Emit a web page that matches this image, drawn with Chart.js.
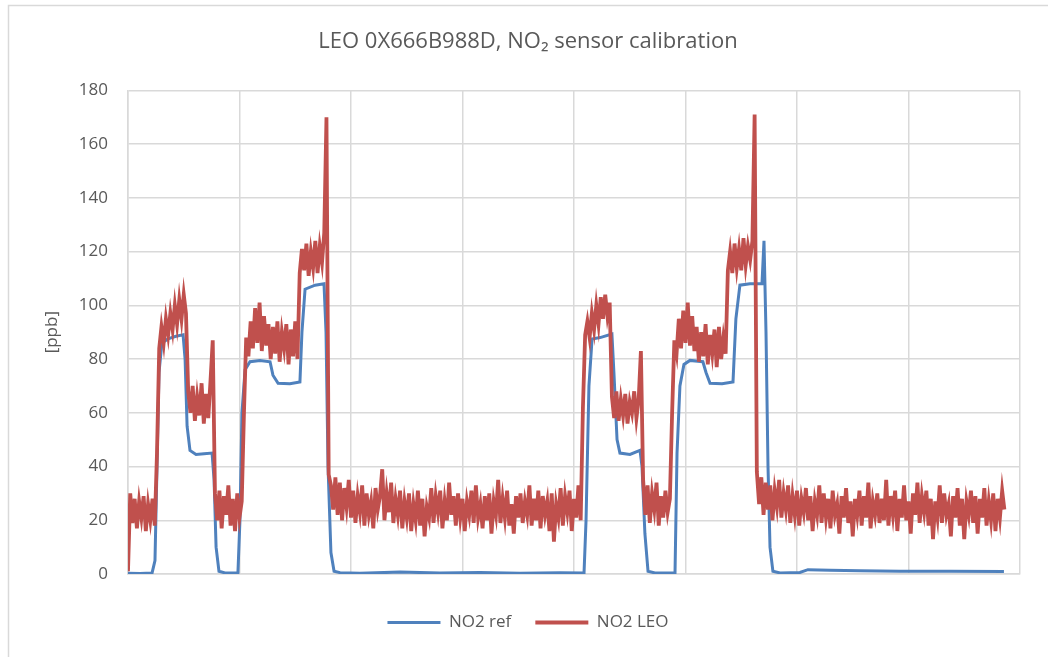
<!DOCTYPE html>
<html>
<head>
<meta charset="utf-8">
<script src="https://cdn.jsdelivr.net/npm/chart.js@4/dist/chart.umd.min.js"></script>
<style>
    html, body { margin: 0; padding: 0; background: #ffffff; }
    #wrap { position: relative; width: 1048px; height: 657px; }
</style>
</head>
<body>
<div id="wrap"><canvas id="chart" width="1048" height="657"></canvas></div>
<script>
const chartTitle = 'LEO 0X666B988D, NO\u2082 sensor calibration';
const yTitle = '[ppb]';
const seriesNames = ['NO2 ref', 'NO2 LEO'];
const yTicks = [0, 20, 40, 60, 80, 100, 120, 140, 160, 180];
const xMax = 400;      // sample number, gridline every 50 samples
const xGridStep = 50;

// NO2 LEO, one reading per sample (sample 0 .. 393)
const leoValues = [
    1, 30, 19, 28, 17, 27, 21, 29, 16, 26,
    20, 28, 18, 45, 84, 92, 86, 95, 89, 97,
    91, 100, 93, 102, 95, 104, 97, 68, 60, 70,
    57, 66, 59, 71, 56, 67, 58, 72, 87, 30,
    20, 31, 17, 29, 22, 33, 18, 28, 16, 30,
    21, 27, 60, 88, 81, 94, 84, 99, 86, 101,
    83, 96, 85, 93, 80, 92, 82, 94, 79, 90,
    84, 93, 78, 91, 81, 94, 80, 112, 121, 113,
    123, 111, 120, 114, 124, 112, 122, 116, 127, 170,
    37, 33, 24, 36, 22, 34, 20, 32, 25, 35,
    21, 31, 19, 29, 23, 33, 18, 30, 22, 27,
    17, 32, 24, 29, 39, 20, 30, 23, 34, 19,
    28, 22, 31, 17, 27, 21, 30, 16, 26, 20,
    31, 18, 28, 14, 25, 21, 32, 19, 29, 23,
    31, 17, 27, 20, 34, 22, 29, 18, 30, 21,
    28, 16, 27, 22, 31, 19, 33, 21, 26, 17,
    29, 20, 30, 15, 27, 22, 35, 19, 28, 21,
    31, 18, 26, 15, 29, 21, 30, 19, 27, 22,
    33, 18, 28, 20, 31, 17, 29, 22, 27, 16,
    30, 12, 26, 21, 32, 18, 29, 23, 31, 16,
    28, 21, 33, 20, 62, 89, 94, 88, 97, 91,
    100, 93, 103, 95, 104, 96, 101, 66, 58, 68,
    57, 65, 59, 67, 56, 64, 60, 68, 58, 65,
    83, 35, 22, 33, 19, 30, 24, 34, 18, 29,
    21, 31, 23, 28, 60, 87, 82, 95, 84, 98,
    86, 101, 85, 96, 83, 92, 79, 90, 81, 93,
    78, 89, 82, 91, 77, 92, 80, 88, 82, 113,
    120, 112, 123, 114, 121, 113, 125, 115, 122, 117,
    124, 171, 38, 26, 36, 22, 34, 24, 33, 20,
    31, 25, 35, 21, 30, 24, 33, 19, 29, 22,
    31, 18, 28, 23, 32, 20, 29, 16, 27, 22,
    33, 19, 30, 21, 28, 17, 31, 22, 26, 15,
    29, 21, 32, 19, 27, 14, 28, 22, 31, 18,
    29, 21, 34, 17, 27, 22, 30, 19, 28, 20,
    35, 18, 29, 22, 31, 16, 28, 21, 33, 20,
    27, 15, 30, 22, 34, 19, 29, 23, 31, 18,
    28, 13, 27, 21, 33, 19, 30, 22, 26, 14,
    29, 21, 32, 18, 28, 13, 27, 22, 31, 19,
    29, 15, 28, 21, 32, 18, 27, 20, 30, 16,
    28, 21, 31, 24
];

// NO2 ref, read at the sample numbers where its shape changes
const refSamples = [
    0, 5.4, 10.8, 12.1, 13, 13.9, 15.2, 17.9, 21.5, 24.7,
    25.6, 26.5, 27.8, 30.5, 34.1, 37.7, 38.6, 39.5, 40.8, 43.5,
    49.3, 50.2, 51.1, 52.5, 54.7, 59.2, 63.7, 65, 67.3, 72.6,
    77.1, 78, 79.4, 83.9, 87.9, 88.8, 89.7, 91, 92.4, 95.1,
    104, 122, 139.9, 157.8, 175.8, 193.7, 204.5, 205.4, 206.7, 208.1,
    211.7, 217, 217.9, 219.3, 220.6, 225.1, 229.6, 230.5, 231.8, 233.2,
    236.3, 245.3, 246.2, 247.5, 249.3, 252, 257.8, 259.2, 261, 266.4,
    271.3, 272.6, 274.4, 278.9, 284.3, 285.2, 286.1, 287, 287.9, 289.2,
    292.4, 301.3, 304.9, 314.8, 328.3, 346.2, 368.6, 392.8
];
const refValues = [
    0.3, 0.2, 0.4, 5, 40, 75, 86, 87.5, 88.5, 89,
    80, 55, 46, 44.5, 44.8, 45, 35, 10, 1, 0.4,
    0.5, 20, 60, 76, 79, 79.5, 79, 74, 71, 70.8,
    71.5, 90, 106, 107.5, 108, 90, 40, 8, 1, 0.5,
    0.3, 0.7, 0.4, 0.6, 0.3, 0.5, 0.4, 20, 70, 87.5,
    88, 89.3, 75, 50, 45, 44.5, 46, 40, 15, 1,
    0.4, 0.5, 45, 70, 78, 79.5, 79, 75, 71, 70.8,
    71.5, 95, 107.5, 108, 108, 124, 90, 40, 10, 1,
    0.4, 0.6, 1.6, 1.4, 1.2, 1.0, 1.0, 0.9
];

const textColor = '#595959';
const gridColor = '#d9d9d9';

const frame = {
    id: 'frame',
    beforeDraw(chart) {
        const ctx = chart.ctx;
        ctx.save();
        ctx.strokeStyle = gridColor;
        ctx.lineWidth = 1.5;
        ctx.strokeRect(8.5, 5.5, 1200, 800);
        ctx.restore();
    }
};

new Chart(document.getElementById('chart'), {
    type: 'line',
    data: {
        datasets: [{
            label: seriesNames[0],
            data: refSamples.map((s, k) => ({ x: s, y: refValues[k] })),
            borderColor: '#4f81bd',
            backgroundColor: '#4f81bd',
            borderWidth: 3,
            pointRadius: 0,
            order: 2
        }, {
            label: seriesNames[1],
            data: leoValues.map((v, i) => ({ x: i, y: v })),
            borderColor: '#c0504d',
            backgroundColor: '#c0504d',
            borderWidth: 3.8,
            pointRadius: 0,
            order: 1
        }]
    },
    options: {
        responsive: false,
        animation: false,
        layout: { padding: { left: 36, right: 28, top: 0, bottom: 16 } },
        plugins: {
            title: {
                display: true,
                text: chartTitle,
                color: textColor,
                font: { family: 'Open Sans', size: 22, weight: 'normal' },
                padding: { top: 29, bottom: 35 }
            },
            legend: {
                position: 'bottom',
                labels: {
                    color: textColor,
                    font: { family: 'Open Sans', size: 17 },
                    usePointStyle: true,
                    pointStyle: 'line',
                    pointStyleWidth: 53,
                    padding: 24,
                    sort: (a, b) => a.datasetIndex - b.datasetIndex
                }
            },
            tooltip: { enabled: false }
        },
        scales: {
            x: {
                type: 'linear',
                min: 0,
                max: xMax,
                ticks: { display: false, stepSize: xGridStep },
                grid: { color: gridColor, lineWidth: 1.5, drawTicks: false },
                border: { color: gridColor, width: 1.5 },
                afterFit: (scale) => { scale.height = 16; }
            },
            y: {
                min: yTicks[0],
                max: yTicks[yTicks.length - 1],
                afterBuildTicks: (scale) => { scale.ticks = yTicks.map(v => ({ value: v })); },
                ticks: {
                    color: textColor,
                    font: { family: 'Open Sans', size: 17 },
                    padding: 20
                },
                grid: { color: gridColor, lineWidth: 1.5, drawTicks: false },
                border: { color: gridColor, width: 1.5 },
                title: {
                    display: true,
                    text: yTitle,
                    color: textColor,
                    font: { family: 'Open Sans', size: 17 },
                    padding: { top: 6, bottom: 0 }
                },
                afterFit: (scale) => { scale.width = 92; }
            }
        }
    },
    plugins: [frame]
});
</script>
</body>
</html>
